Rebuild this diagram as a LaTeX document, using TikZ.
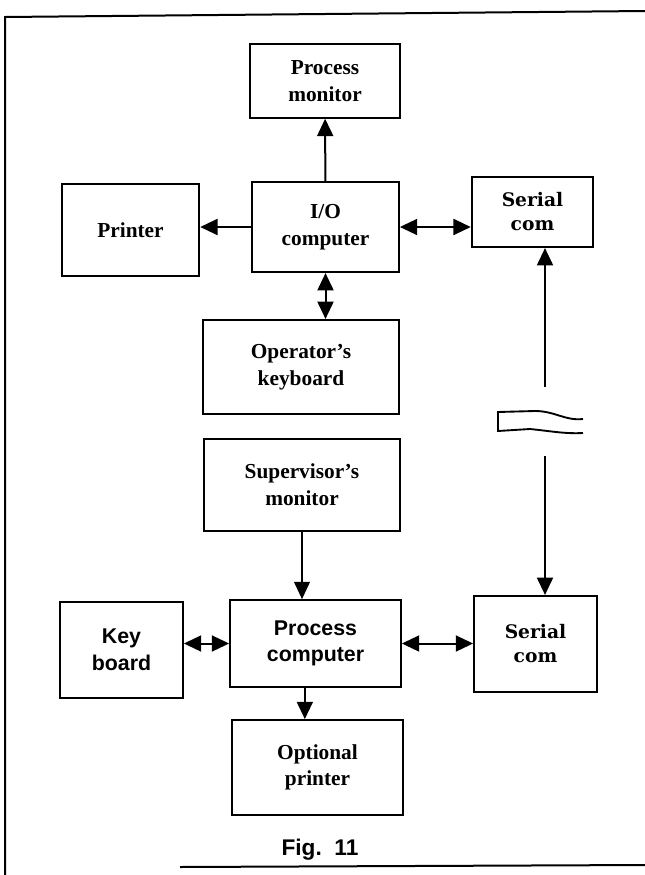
\documentclass[tikz,border=0pt]{standalone}
\usepackage{fontspec}
\setmainfont{Liberation Serif}
\setsansfont{Liberation Sans}
\newfontfamily\slabfont{DejaVu Serif}
\usetikzlibrary{arrows.meta, positioning, calc}

\tikzset{
  >={Triangle[length=13pt,width=12pt]},
  blk/.style={draw, line width=1.6pt, align=center, inner sep=2pt,
    font=\bfseries\fontsize{16}{20}\selectfont},
  sblk/.style={blk, font=\sffamily\bfseries\fontsize{16}{20}\selectfont},
  cblk/.style={blk, font=\slabfont\bfseries\fontsize{14}{18}\selectfont},
  lnk/.style={line width=1.5pt},
}

\begin{document}
\begin{tikzpicture}[x=0.75pt, y=-0.75pt]
        \useasboundingbox (0,0) rectangle (645,875);

        \draw[line width=1.5pt] (645,11) -- (5,17) -- (5,875);
        \draw[line width=1.5pt] (180,867) -- (645,865);

        \node[blk, minimum width=112.5pt, minimum height=55pt] (pmon) at (325,81) {Process\\monitor};
        \node[blk, minimum width=110pt, minimum height=67.5pt] (iocomp) at (325.5,227) {I/O\\computer};
        \node[blk, minimum width=103pt, minimum height=69pt] (prn) at (130.5,230) {Printer};
        \node[cblk, minimum width=91pt, minimum height=52.5pt] (serA) at (532.5,212) {Serial\\com};
        \node[blk, minimum width=147pt, minimum height=70.5pt] (opkey) at (301,367) {Operator’s\\keyboard};
        \node[blk, minimum width=147pt, minimum height=69pt] (supmon) at (302,485) {Supervisor’s\\monitor};
        \node[sblk, minimum width=128pt, minimum height=65pt] (pcomp) at (315.5,643.5) {Process\\computer};
        \node[sblk, minimum width=92pt, minimum height=72pt] (keyb) at (121.5,650) {Key\\board};
        \node[cblk, minimum width=92pt, minimum height=72pt] (serB) at (535.5,644) {Serial\\com};
        \node[blk, minimum width=128pt, minimum height=71pt] (optprn) at (317.5,767.5) {Optional\\printer};
        \node[font=\sffamily\bfseries\fontsize{17}{20}\selectfont] (fig) at (320,850) {Fig.~~11};

        \draw[lnk, ->] (iocomp) -- (pmon);
        \draw[lnk, ->] (iocomp.west) -- (iocomp.west -| prn.east);
        \draw[lnk, <->] (iocomp.east) -- (iocomp.east -| serA.west);
        \draw[lnk, <->] (iocomp.south) -- (iocomp.south |- opkey.north);
        \draw[line width=0.8pt, ->] (supmon.south) -- (supmon.south |- pcomp.north);
        \draw[lnk, <->] (pcomp.west) -- (pcomp.west -| keyb.east);
        \draw[lnk, <->] (pcomp.east) -- (pcomp.east -| serB.west);
        \draw[lnk, ->] ([xshift=-8pt]pcomp.south) -- ([xshift=-8pt]pcomp.south |- optprn.north);

        \coordinate (brkT) at (545,387);
        \coordinate (brkB) at (545,456);
        \draw[lnk, ->] (brkT) -- (brkT |- serA.south);
        \draw[lnk, ->] (brkB) -- (brkB |- serB.north);

        \draw[line width=1.4pt] (583,419) .. controls (565,421) and (555,411) .. (535,411) -- (498,412) -- (498,431)
          -- (530,429) .. controls (550,431) and (565,434) .. (583,433);

      \end{tikzpicture}
\end{document}
